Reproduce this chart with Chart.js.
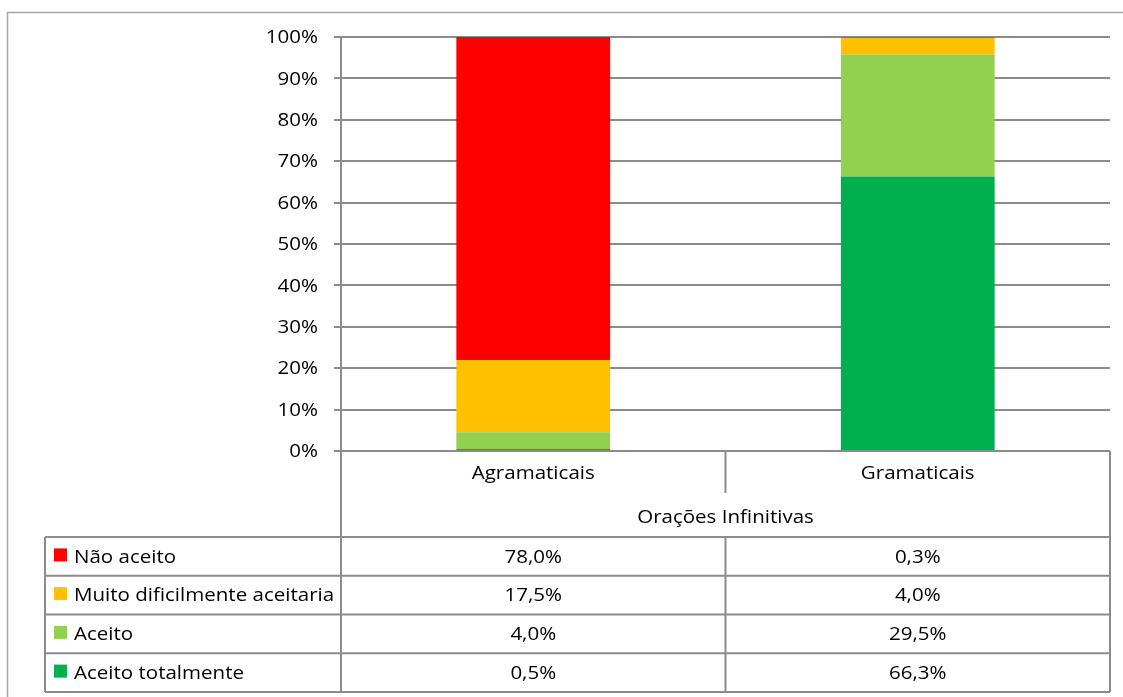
<!DOCTYPE html>
<html>
<head>
    <title>Orações Infinitivas</title>
    <script src="https://cdn.jsdelivr.net/npm/chart.js"></script>
    <style>
        body { margin: 0; background: #fff; }
        canvas { display: block; }
    </style>
</head>
<body>
<canvas id="oracoesChart" width="1123" height="697"></canvas>

<script>
    // categories and series (stacked from the bottom up)
    const categories = ['Agramaticais', 'Gramaticais'];
    const groupTitle = 'Orações Infinitivas';
    const seriesNames = ['Aceito totalmente', 'Aceito', 'Muito dificilmente aceitaria', 'Não aceito'];
    const seriesColors = ['#00B050', '#92D050', '#FFC000', '#FF0000'];
    const aceitoTotalmente = [0.5, 66.3];
    const aceito = [4.0, 29.5];
    const muitoDificilmente = [17.5, 4.0];
    const naoAceito = [78.0, 0.3];
    const yTicks = [0, 10, 20, 30, 40, 50, 60, 70, 80, 90, 100];

    const seriesValues = [aceitoTotalmente, aceito, muitoDificilmente, naoAceito];
    const FONT = '18px "Open Sans", sans-serif';
    const LINE = '#8c8c8c';
    const STRETCH = 1.14;

    const fmt = v => v.toFixed(1).replace('.', ',') + '%';

    // text a little wider than the font's natural width
    function wideText(ctx, text, x, y, align) {
        ctx.save();
        ctx.translate(x, y);
        ctx.scale(STRETCH, 1);
        ctx.textAlign = align;
        ctx.textBaseline = 'middle';
        ctx.fillText(text, 0, 0);
        ctx.restore();
    }

    // frame around the chart, y labels and the data table under the plot
    const dataTable = {
        id: 'dataTable',
        beforeDraw(chart) {
            const ctx = chart.ctx;
            ctx.save();
            ctx.strokeStyle = '#a6a6a6';
            ctx.lineWidth = 1.5;
            ctx.beginPath();
            ctx.moveTo(7.5, chart.height);
            ctx.lineTo(7.5, 12.5);
            ctx.lineTo(chart.width, 12.5);
            ctx.stroke();
            ctx.restore();
        },
        afterDraw(chart) {
            const ctx = chart.ctx;
            const area = chart.chartArea;
            const xs = chart.scales.x;
            const ys = chart.scales.y;
            const left = area.left, right = area.right, top = area.bottom;
            const mid = (xs.getPixelForValue(0) + xs.getPixelForValue(1)) / 2;
            const legendLeft = 45;
            const headerBottom = 493;
            const groupBottom = 537;
            const rowH = 38.75;
            const bottom = groupBottom + rowH * 4;

            ctx.save();
            ctx.strokeStyle = LINE;
            ctx.lineWidth = 2;
            ctx.beginPath();
            // y axis continues down through the header rows
            ctx.moveTo(left, top); ctx.lineTo(left, bottom);
            ctx.moveTo(right, top); ctx.lineTo(right, bottom);
            ctx.moveTo(mid, top); ctx.lineTo(mid, headerBottom);
            ctx.moveTo(mid, groupBottom); ctx.lineTo(mid, bottom);
            ctx.moveTo(legendLeft, groupBottom); ctx.lineTo(legendLeft, bottom);
            for (let i = 0; i <= 4; i++) {
                const y = groupBottom + rowH * i;
                ctx.moveTo(legendLeft, y); ctx.lineTo(right, y);
            }
            ctx.stroke();

            ctx.fillStyle = '#000';
            ctx.font = FONT;

            yTicks.forEach(v => wideText(ctx, v + '%', left - 23, ys.getPixelForValue(v) + 1, 'right'));

            categories.forEach((c, i) => {
                wideText(ctx, c, xs.getPixelForValue(i), (top + headerBottom) / 2 + 2, 'center');
            });
            wideText(ctx, groupTitle, mid, (headerBottom + groupBottom) / 2 + 3, 'center');

            // rows are listed top-down: last series first
            for (let r = 0; r < 4; r++) {
                const s = 3 - r;
                const yc = groupBottom + rowH * r + rowH / 2;
                ctx.fillStyle = seriesColors[s];
                ctx.fillRect(54, yc - 8, 13, 13);
                ctx.fillStyle = '#000';
                wideText(ctx, seriesNames[s], 74, yc + 1, 'left');
                seriesValues[s].forEach((v, i) => {
                    wideText(ctx, fmt(v), xs.getPixelForValue(i), yc + 1, 'center');
                });
            }
            ctx.restore();
        }
    };

    const ctx = document.getElementById('oracoesChart').getContext('2d');
    new Chart(ctx, {
        type: 'bar',
        data: {
            labels: categories,
            datasets: seriesNames.map((name, i) => ({
                label: name,
                data: seriesValues[i],
                backgroundColor: seriesColors[i],
                borderWidth: 0,
                barPercentage: 1,
                categoryPercentage: 0.4
            }))
        },
        options: {
            responsive: false,
            animation: false,
            layout: { padding: { top: 37, right: 13, bottom: 246, left: 0 } },
            plugins: {
                legend: { display: false },
                tooltip: { enabled: false }
            },
            scales: {
                x: { stacked: true, display: false },
                y: {
                    stacked: true,
                    min: 0,
                    max: 100,
                    afterFit: s => { s.width = 341; },
                    afterBuildTicks: s => { s.ticks = yTicks.map(v => ({ value: v })); },
                    grid: { color: LINE, lineWidth: 2, tickLength: 7 },
                    border: { color: LINE, width: 2 },
                    ticks: { display: false }
                }
            }
        },
        plugins: [dataTable]
    });
</script>
</body>
</html>
